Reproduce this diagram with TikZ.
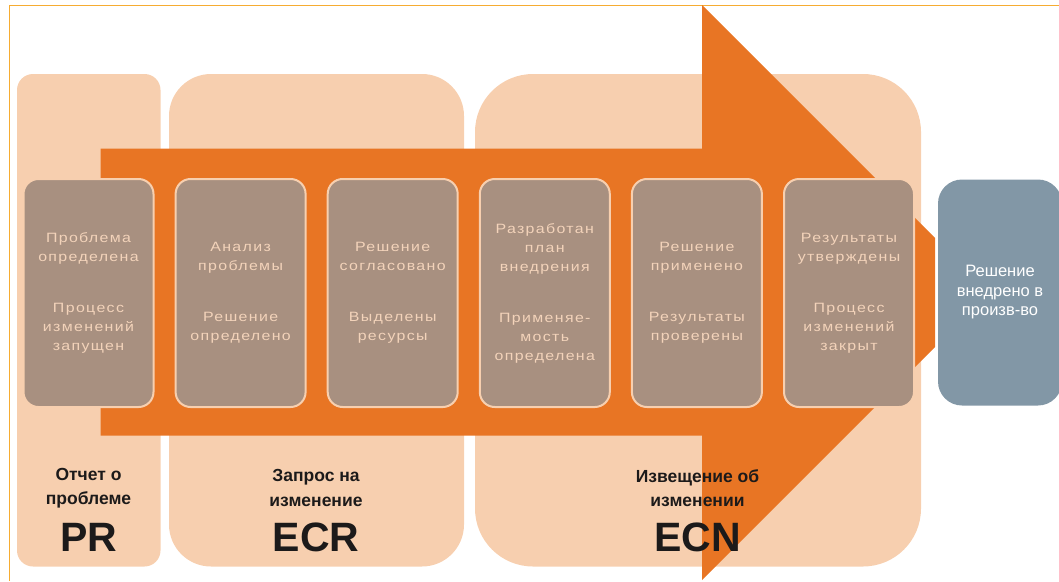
\documentclass[tikz,border=0pt]{standalone}
\usepackage{fontspec}
\setmainfont{Liberation Sans}
\newfontfamily\stepfamily[LetterSpace=10,FakeStretch=1.18]{Liberation Sans}
\definecolor{framec}{RGB}{246,172,50}
\definecolor{panelc}{RGB}{247,207,175}
\definecolor{arrowc}{RGB}{232,117,36}
\definecolor{stepc}{RGB}{168,144,128}
\definecolor{steptext}{RGB}{243,211,186}
\definecolor{donec}{RGB}{130,151,166}
\definecolor{labelc}{RGB}{28,26,26}
\tikzset{
	stepbox/.style={rounded corners=15pt,fill=stepc,draw=panelc,line width=2pt,minimum width=130pt,minimum height=228pt,inner sep=0pt,align=center,text=steptext,font=\stepfamily\fontsize{13.5}{19}\selectfont},
	donebox/.style={rounded corners=24pt,fill=donec,minimum width=124pt,minimum height=226pt,inner sep=0pt,align=center,text=white,font=\fontsize{16.5}{19.5}\selectfont},
	phase/.style={align=center,inner sep=0pt,text=labelc,font=\bfseries\fontsize{17.5}{24.5}\selectfont},
	abbr/.style={inner sep=0pt,text=labelc,font=\bfseries\fontsize{41}{41}\selectfont}
}
\begin{document}
\begin{tikzpicture}[x=1pt,y=-1pt]
		\useasboundingbox (0,0) rectangle (1059,581);
		\draw[framec,line width=1.2pt] (9.5,581) -- (9.5,5.5) -- (1059,5.5);
		\fill[panelc,rounded corners=16pt] (17,74) rectangle (160.5,566.5);
		\fill[panelc,rounded corners=42pt] (169,74) rectangle (464,566.5);
		\fill[panelc,rounded corners=58pt] (475,74) rectangle (921,566.5);
		\fill[arrowc] (100.5,148.5) -- (702,148.5) -- (702,5) -- (935,238) -- (935,347) -- (702,580) -- (702,435.5) -- (100.5,435.5) -- cycle;
		\node[stepbox] (s1) at (88.5,293) {Проблема\\определена\\[32pt]Процесс\\изменений\\запущен};
		\node[stepbox] (s2) at (240.6,293) {Анализ\\проблемы\\[32pt]Решение\\определено};
		\node[stepbox] (s3) at (392.7,293) {Решение\\согласовано\\[32pt]Выделены\\ресурсы};
		\node[stepbox] (s4) at (544.8,293) {Разработан\\план\\внедрения\\[32pt]Применяе-\\мость\\определена};
		\node[stepbox] (s5) at (696.9,293) {Решение\\применено\\[32pt]Результаты\\проверены};
		\node[stepbox] (s6) at (849,293) {Результаты\\утверждены\\[32pt]Процесс\\изменений\\закрыт};
		\node[donebox] (done) at (1000,292.5) {Решение\\внедрено в\\произв-во};
		\node[phase] (pr) at (88.5,488) {Отчет о\\проблеме};
		\node[abbr] (prabbr) at (88.5,537) {PR};
		\node[phase] (ecr) at (316,488) {Запрос на\\изменение};
		\node[abbr] (ecrabbr) at (316,537) {ECR};
		\node[phase] (ecn) at (697.5,488) {Извещение об\\изменении};
		\node[abbr] (ecnabbr) at (697.5,537) {ECN};
\end{tikzpicture}
\end{document}
